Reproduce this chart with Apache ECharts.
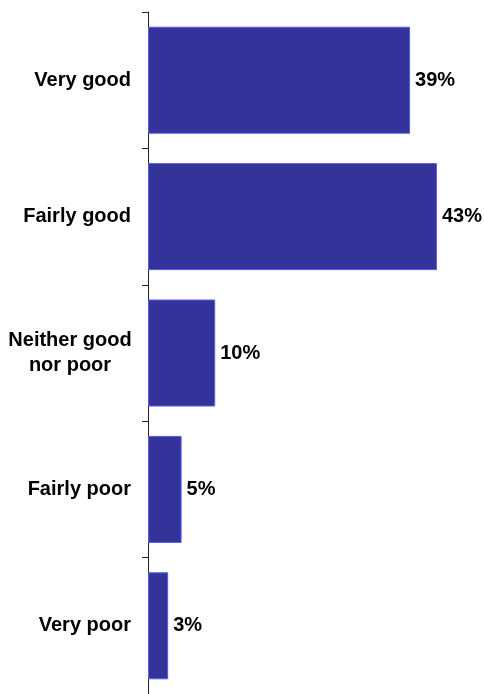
<!DOCTYPE html>
<html>
<head>
<meta charset="utf-8">
<script src="https://cdn.jsdelivr.net/npm/echarts@6/dist/echarts.min.js"></script>
<style>
html, body { margin: 0; padding: 0; background: #fff; }
#main { width: 484px; height: 694px; }
</style>
</head>
<body>
<div id="main"></div>
<script>
var categories = ['Very good', 'Fairly good', 'Neither good\nnor poor', 'Fairly poor', 'Very poor'];
var values = [39, 43, 10, 5, 3];

var font = { color: '#000', fontFamily: 'Arial, "Liberation Sans"', fontWeight: 'bold', fontSize: 20 };

var chart = echarts.init(document.getElementById('main'));
var option = {
	animation: false,
	grid: { left: 148, right: 0, top: 12, bottom: -3 },
	xAxis: {
		type: 'value', min: 0, max: 50, show: false
	},
	yAxis: {
		type: 'category', data: categories, inverse: true,
		axisLine: { lineStyle: { color: '#222', width: 1 } },
		axisTick: { show: true, length: 6, lineStyle: { color: '#222' } },
		axisLabel: {
			margin: 17, color: font.color, fontFamily: font.fontFamily,
			fontWeight: font.fontWeight, fontSize: font.fontSize, lineHeight: 25, align: 'right',
			formatter: function (v) {
				// multi-line labels are centred line by line
				if (v.indexOf('\n') < 0) return v;
				return v.split('\n').map(function (s) { return '{c|' + s + '}'; }).join('\n');
			},
			rich: {
				c: {
					width: 122, align: 'center', lineHeight: 25, color: font.color,
					fontFamily: font.fontFamily, fontWeight: font.fontWeight, fontSize: font.fontSize
				}
			}
		}
	},
	series: [{
		type: 'bar', data: values, barWidth: 107,
		itemStyle: { color: '#333399', borderColor: '#5a5ae6', borderWidth: 1 },
		label: {
			show: true, position: 'right', distance: 5, formatter: '{c}%',
			color: font.color, fontFamily: font.fontFamily, fontWeight: font.fontWeight, fontSize: font.fontSize
		}
	}]
};
chart.setOption(option);
</script>
</body>
</html>
